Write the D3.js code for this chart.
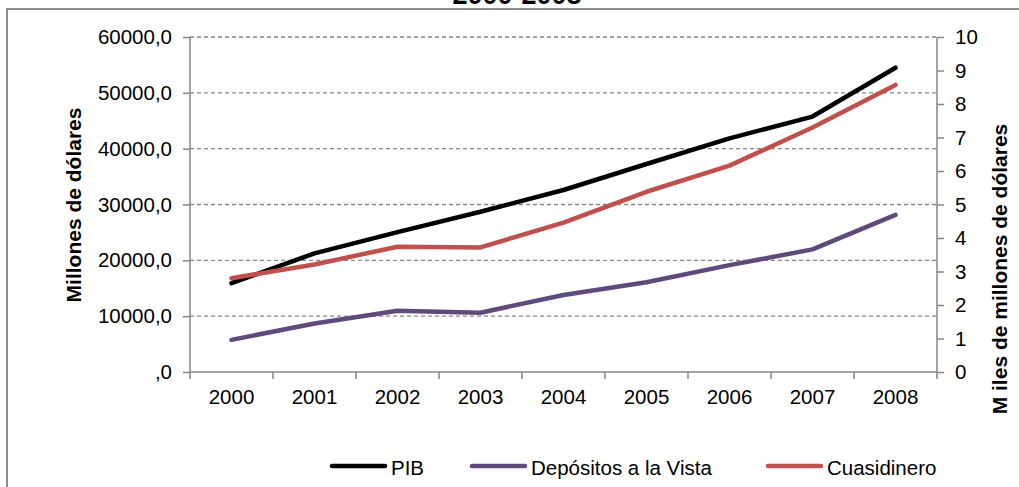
<!DOCTYPE html>
<html>
<head>
<meta charset="utf-8">
<script src="https://cdn.jsdelivr.net/npm/d3@7"></script>
<style>
  body { margin: 0; background: #fff; }
  svg { display: block; font-family: "Liberation Sans", Arial, sans-serif; }
  .axis path, .axis line { stroke: #868686; stroke-width: 1.5; }
  .axis text { fill: #000; font-size: 20.5px; font-family: "Liberation Sans", Arial, sans-serif; }
</style>
</head>
<body>
<div id="chart"></div>
<script>
const years = ['2000', '2001', '2002', '2003', '2004', '2005', '2006', '2007', '2008'];
// millones de dólares (eje izquierdo)
const pib = [15900, 21250, 25050, 28700, 32600, 37250, 41850, 45750, 54500];
// miles de millones de dólares (eje derecho)
const depositos = [0.96, 1.45, 1.83, 1.77, 2.30, 2.68, 3.19, 3.66, 4.69];
const cuasidinero = [2.80, 3.21, 3.74, 3.72, 4.46, 5.38, 6.16, 7.30, 8.57];
const leftTicks = [0, 10000, 20000, 30000, 40000, 50000, 60000];
const rightTicks = [0, 1, 2, 3, 4, 5, 6, 7, 8, 9, 10];

const series = [
  { name: 'PIB', values: pib, axis: 'left', color: '#000000' },
  { name: 'Depósitos a la Vista', values: depositos, axis: 'right', color: '#604a7b' },
  { name: 'Cuasidinero', values: cuasidinero, axis: 'right', color: '#c0504d' },
];

const canvasWidth = 1019;
const canvasHeight = 487;
const margins = { top: 37, right: 82, bottom: 115, left: 190 };
const width = canvasWidth - margins.left - margins.right;
const height = canvasHeight - margins.top - margins.bottom;

const svg = d3.select('#chart')
  .append('svg')
    .attr('width', canvasWidth)
    .attr('height', canvasHeight);

// chart frame
svg.append('rect')
  .attr('x', 7)
  .attr('y', 9)
  .attr('width', canvasWidth + 20)
  .attr('height', canvasHeight + 20)
  .attr('fill', 'none')
  .attr('stroke', '#8c8c8c')
  .attr('stroke-width', 2);

// title (only its lower part shows, as in the original)
svg.append('text')
  .attr('x', 517)
  .attr('y', 4)
  .attr('text-anchor', 'middle')
  .style('font-weight', 'bold')
  .style('font-size', '27px')
  .text('2000-2008');

const chart = svg.append('g')
  .attr('transform', `translate(${margins.left}, ${margins.top})`);

const scaleX = d3.scaleBand()
  .domain(years)
  .range([0, width]);
const scaleLeft = d3.scaleLinear()
  .domain([0, 60000])
  .range([height, 0]);
const scaleRight = d3.scaleLinear()
  .domain([0, 10])
  .range([height, 0]);

// gridlines
chart.append('g')
  .selectAll('line')
  .data(leftTicks.slice(1))
  .enter()
  .append('line')
    .attr('x1', 0)
    .attr('x2', width)
    .attr('y1', d => scaleLeft(d))
    .attr('y2', d => scaleLeft(d))
    .attr('stroke', '#868686')
    .attr('stroke-width', 1.3)
    .attr('stroke-dasharray', '4,3');

const fmtLeft = d => (d === 0 ? ',0' : `${d},0`);

// left axis
chart.append('g')
  .attr('class', 'axis')
  .call(d3.axisLeft(scaleLeft).tickValues(leftTicks).tickSize(7).tickPadding(11).tickFormat(fmtLeft))
  .call(g => g.select('.domain').attr('d', `M0,0V${height}`));

// right axis
chart.append('g')
  .attr('class', 'axis')
  .attr('transform', `translate(${width}, 0)`)
  .call(d3.axisRight(scaleRight).tickValues(rightTicks).tickSize(7).tickPadding(11))
  .call(g => g.select('.domain').attr('d', `M0,0V${height}`));

// bottom axis
const axisX = chart.append('g')
  .attr('class', 'axis')
  .attr('transform', `translate(0, ${height})`)
  .call(d3.axisBottom(scaleX).tickSize(0).tickPadding(17))
  .call(g => g.select('.domain').attr('d', `M0,0H${width}`));

axisX.selectAll('.sep')
  .data(years.concat(['end']))
  .enter()
  .append('line')
    .attr('class', 'sep')
    .attr('x1', (d, i) => i * scaleX.step())
    .attr('x2', (d, i) => i * scaleX.step())
    .attr('y1', 0)
    .attr('y2', 7);

// axis titles
svg.append('text')
  .attr('transform', 'translate(81, 205) rotate(-90)')
  .attr('text-anchor', 'middle')
  .style('font-weight', 'bold')
  .style('font-size', '21px')
  .text('Millones de dólares');

svg.append('text')
  .attr('transform', 'translate(1007, 269) rotate(-90)')
  .attr('text-anchor', 'middle')
  .style('font-weight', 'bold')
  .style('font-size', '21px')
  .text('M iles de millones de dólares');

// lines
const line = s => d3.line()
  .x((d, i) => scaleX(years[i]) + scaleX.bandwidth() / 2)
  .y(d => (s.axis === 'left' ? scaleLeft(d) : scaleRight(d)));

chart.append('g')
  .selectAll('path')
  .data(series)
  .enter()
  .append('path')
    .attr('fill', 'none')
    .attr('stroke', d => d.color)
    .attr('stroke-width', 4.5)
    .attr('stroke-linecap', 'round')
    .attr('stroke-linejoin', 'round')
    .attr('d', d => line(d)(d.values));

// legend
const legendX = [332, 472, 768];
const legend = svg.append('g')
  .selectAll('g')
  .data(series)
  .enter()
  .append('g')
    .attr('transform', (d, i) => `translate(${legendX[i]}, 466)`);

legend.append('line')
  .attr('x1', 0)
  .attr('x2', 53)
  .attr('stroke', d => d.color)
  .attr('stroke-width', 4.5)
  .attr('stroke-linecap', 'round');

legend.append('text')
  .attr('x', 59)
  .attr('y', 9)
  .style('font-size', '20.5px')
  .text(d => d.name);
</script>
</body>
</html>
